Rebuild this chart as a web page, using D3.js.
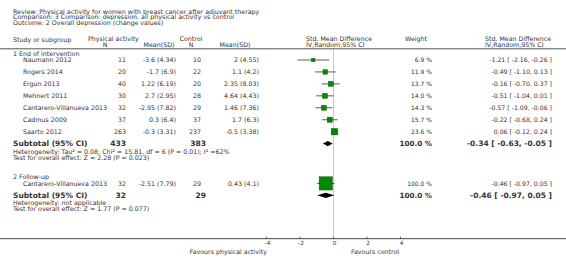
<!DOCTYPE html>
<html>
<head>
<meta charset="utf-8">
<script src="https://cdn.jsdelivr.net/npm/d3@7"></script>
<style>
  body { margin: 0; background: #fff; }
  svg text { font-family: "DejaVu Sans", Verdana, sans-serif; fill: #333; }
</style>
</head>
<body>
<div id="chart"></div>
<script>
// data
let studies1 = ["Naumann 2012", "Rogers 2014", "Ergun 2013", "Mehnert 2011",
    "Cantarero-Villanueva 2013", "Cadmus 2009", "Saarto 2012"];
let paN1 = [11, 20, 40, 30, 32, 37, 263];
let paMean1 = ["-3.6 (4.34)", "-1.7 (6.9)", "1.22 (6.19)", "2.7 (2.95)", "-2.95 (7.82)", "0.3 (6.4)", "-0.3 (3.31)"];
let ctlN1 = [10, 22, 20, 28, 29, 37, 237];
let ctlMean1 = ["2 (4.55)", "1.1 (4.2)", "2.35 (8.03)", "4.64 (4.43)", "1.46 (7.36)", "1.7 (6.3)", "-0.5 (3.38)"];
let weight1 = [6.9, 11.9, 13.7, 14.0, 14.3, 15.7, 23.6];
let smd1 = [-1.21, -0.49, -0.16, -0.51, -0.57, -0.22, 0.06];
let lo1 = [-2.16, -1.10, -0.70, -1.04, -1.09, -0.68, -0.12];
let hi1 = [-0.26, 0.13, 0.37, 0.01, -0.06, 0.24, 0.24];

let studies2 = ["Cantarero-Villanueva 2013"];
let paN2 = [32];
let paMean2 = ["-2.51 (7.79)"];
let ctlN2 = [29];
let ctlMean2 = ["0.43 (4.1)"];
let weight2 = [100.0];
let smd2 = [-0.46];
let lo2 = [-0.97];
let hi2 = [0.05];

let subtotals = [
    {paN: 433, ctlN: 383, est: -0.34, lo: -0.63, hi: -0.05,
     het: "Heterogeneity: Tau\u00b2 = 0.08; Chi\u00b2 = 15.81, df = 6 (P = 0.01); I\u00b2 =62%",
     test: "Test for overall effect: Z = 2.28 (P = 0.023)"},
    {paN: 32, ctlN: 29, est: -0.46, lo: -0.97, hi: 0.05,
     het: "Heterogeneity: not applicable",
     test: "Test for overall effect: Z = 1.77 (P = 0.077)"}
];
let ticks = [-4, -2, 0, 2, 4];

let width = 566, height = 269;
let fs = 6.3;

let svg = d3.select("#chart").append("svg")
    .attr("width", width)
    .attr("height", height);

// effect scale
let x = d3.scaleLinear().domain([-4, 4]).range([266.5, 400.5]);
let size = d3.scaleSqrt().domain([0, 100]).range([0, 13.3]);

function fmt(v) { return d3.format(".2f")(v).replace("\u2212", "-"); }
function ci(e, l, h) { return fmt(e) + " [ " + fmt(l) + ", " + fmt(h) + " ]"; }

function txt(x0, y0, s, anchor, size, bold) {
    svg.append("text").attr("x", x0).attr("y", y0)
        .attr("text-anchor", anchor || "start")
        .style("font-size", (size || fs) + "px")
        .style("font-weight", bold ? "bold" : "normal")
        .text(s);
}

// header
let head = ["Review:  Physical activity for women with breast cancer after adjuvant therapy",
    "Comparison:  3 Comparison: depression, all physical activity vs control",
    "Outcome:  2 Overall depression (change values)"];
head.forEach(function(d, i) { txt(13, 13.5 + i * 5.6, d); });

txt(13, 41.5, "Study or subgroup");
txt(88, 41, "Physical activity");
txt(105, 46.5, "N", "middle");
txt(159, 46.5, "Mean(SD)", "middle");
txt(191, 41, "Control", "middle");
txt(191, 46.5, "N", "middle");
txt(235, 46.5, "Mean(SD)", "middle");
txt(339, 41, "Std. Mean Difference", "middle");
txt(306, 46.5, "IV,Random,95% CI");
txt(416, 41, "Weight", "middle");
txt(518, 41, "Std. Mean Difference", "middle");
txt(485, 46.5, "IV,Random,95% CI");

// header rule
svg.append("line").attr("x1", 0).attr("x2", width).attr("y1", 48.8).attr("y2", 48.8)
    .attr("stroke", "#555").attr("stroke-width", 1);

// zero line
svg.append("line").attr("x1", x(0)).attr("x2", x(0)).attr("y1", 49).attr("y2", 238.5)
    .attr("stroke", "#bbb").attr("stroke-width", 0.8);

function drawGroup(label, labelY, rowY, names, pn, pm, cn, cm, w, est, lo, hi, sub) {
    txt(13, labelY, label);
    let rows = names.map(function(n, i) {
        return {name: n, pn: pn[i], pm: pm[i], cn: cn[i], cm: cm[i], w: w[i], est: est[i], lo: lo[i], hi: hi[i],
                y: rowY + i * 11.95};
    });
    let g = svg.append("g");
    rows.forEach(function(d) {
        txt(23, d.y + 2.4, d.name);
        txt(126, d.y + 2.4, d.pn, "end");
        txt(176, d.y + 2.4, d.pm, "end");
        txt(201, d.y + 2.4, d.cn, "end");
        txt(259, d.y + 2.4, d.cm, "end");
        txt(432, d.y + 2.4, d3.format(".1f")(d.w) + " %", "end", 6);
        txt(552, d.y + 2.4, ci(d.est, d.lo, d.hi), "end", 6.2);
        g.append("line").attr("x1", x(d.lo)).attr("x2", x(d.hi))
            .attr("y1", d.y).attr("y2", d.y)
            .attr("stroke", "#333").attr("stroke-width", 0.8);
        let s = size(d.w);
        g.append("rect").attr("x", x(d.est) - s / 2).attr("y", d.y - s / 2)
            .attr("width", s).attr("height", s)
            .attr("fill", "#008a00").attr("stroke", "#0a4a0a").attr("stroke-width", 0.4);
        if (s > 6) {
            g.append("line").attr("x1", x(d.lo)).attr("x2", x(d.hi))
                .attr("y1", d.y).attr("y2", d.y)
                .attr("stroke", "#333").attr("stroke-width", 0.5).attr("opacity", 0.7);
        }
    });
    let ys = rows[rows.length - 1].y + 11.9;
    txt(13, ys + 2.8, "Subtotal (95% CI)", "start", 7.5, true);
    txt(126, ys + 2.8, sub.paN, "end", 7.5, true);
    txt(206, ys + 2.8, sub.ctlN, "end", 7.5, true);
    txt(432, ys + 2.8, "100.0 %", "end", 7.2, true);
    txt(552, ys + 2.8, ci(sub.est, sub.lo, sub.hi), "end", 7.5, true);
    let dh = 2.6;
    g.append("path")
        .attr("d", "M" + x(sub.lo) + "," + ys + "L" + x(sub.est) + "," + (ys - dh) +
             "L" + x(sub.hi) + "," + ys + "L" + x(sub.est) + "," + (ys + dh) + "Z")
        .attr("fill", "#000");
    txt(13, ys + 10, sub.het);
    txt(13, ys + 16, sub.test);
}

drawGroup("1 End of intervention", 55.8, 60, studies1, paN1, paMean1, ctlN1, ctlMean1,
    weight1, smd1, lo1, hi1, subtotals[0]);
drawGroup("2 Follow-up", 178.5, 183.4, studies2, paN2, paMean2, ctlN2, ctlMean2,
    weight2, smd2, lo2, hi2, subtotals[1]);

// bottom axis
svg.append("line").attr("x1", 0).attr("x2", width).attr("y1", 238.7).attr("y2", 238.7)
    .attr("stroke", "#444").attr("stroke-width", 1);
let ax = svg.append("g").attr("transform", "translate(0,238.7)");
ax.selectAll(".tk").data(ticks).enter().append("line")
    .attr("x1", function(d) { return x(d); }).attr("x2", function(d) { return x(d); })
    .attr("y1", -2).attr("y2", 0).attr("stroke", "#444").attr("stroke-width", 0.8);
ax.selectAll(".tl").data(ticks).enter().append("text")
    .attr("x", function(d) { return x(d) + 1; }).attr("y", 6.5)
    .attr("text-anchor", "middle").style("font-size", "5.8px")
    .text(function(d) { return d; });
txt(267, 254, "Favours physical activity", "end");
txt(375, 254, "Favours control", "middle");
</script>
</body>
</html>
